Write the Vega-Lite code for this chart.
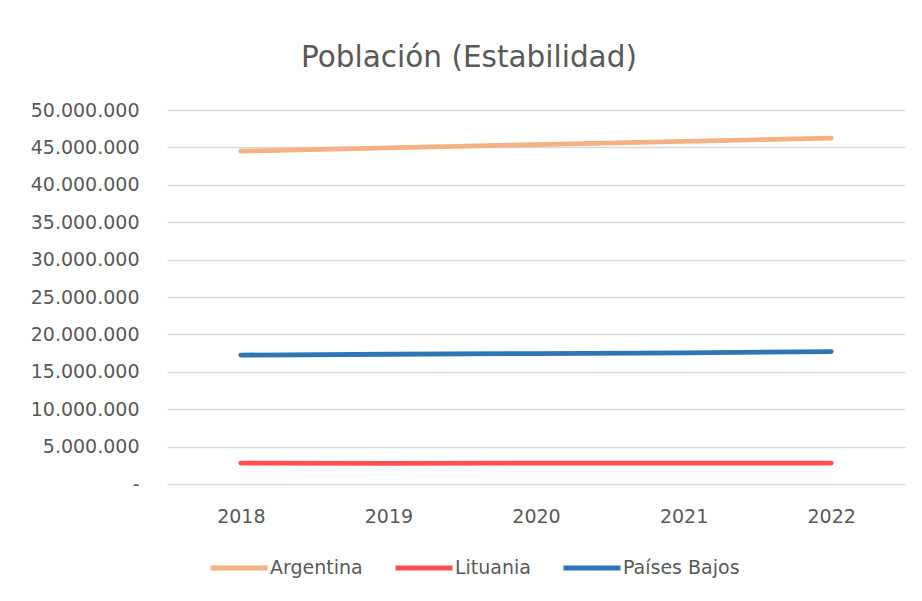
{
  "$schema": "https://vega.github.io/schema/vega-lite/v6.json",
  "autosize": {"type": "none"},
  "width": 738,
  "height": 374,
  "padding": {"left": 167, "top": 110, "right": 17, "bottom": 117},
  "background": "white",
  "title": {
    "text": "Población (Estabilidad)",
    "font": "DejaVu Sans",
    "fontSize": 29.5,
    "fontWeight": "normal",
    "color": "#595959",
    "anchor": "middle",
    "frame": "group",
    "baseline": "alphabetic",
    "offset": 5,
    "dx": -67
  },
  "data": {
    "values": [
      {"pais": "Argentina", "anio": "2018", "poblacion": 44494502},
      {"pais": "Argentina", "anio": "2019", "poblacion": 44938712},
      {"pais": "Argentina", "anio": "2020", "poblacion": 45376763},
      {"pais": "Argentina", "anio": "2021", "poblacion": 45808747},
      {"pais": "Argentina", "anio": "2022", "poblacion": 46234830},
      {"pais": "Lituania", "anio": "2018", "poblacion": 2801543},
      {"pais": "Lituania", "anio": "2019", "poblacion": 2744137},
      {"pais": "Lituania", "anio": "2020", "poblacion": 2794885},
      {"pais": "Lituania", "anio": "2021", "poblacion": 2800839},
      {"pais": "Lituania", "anio": "2022", "poblacion": 2801639},
      {"pais": "Países Bajos", "anio": "2018", "poblacion": 17231624},
      {"pais": "Países Bajos", "anio": "2019", "poblacion": 17344874},
      {"pais": "Países Bajos", "anio": "2020", "poblacion": 17441500},
      {"pais": "Países Bajos", "anio": "2021", "poblacion": 17533044},
      {"pais": "Países Bajos", "anio": "2022", "poblacion": 17700982}
    ]
  },
  "mark": {"type": "line", "strokeWidth": 4.8, "strokeCap": "round", "strokeJoin": "round"},
  "encoding": {
    "x": {
      "field": "anio",
      "type": "ordinal",
      "scale": {"paddingInner": 0, "paddingOuter": 0.5},
      "axis": {
        "title": null,
        "labelAngle": 0,
        "ticks": false,
        "domain": false,
        "grid": false,
        "labelPadding": 23,
        "labelBaseline": "top",
        "labelFont": "DejaVu Sans",
        "labelFontSize": 19,
        "labelColor": "#595959"
      }
    },
    "y": {
      "field": "poblacion",
      "type": "quantitative",
      "scale": {"domain": [0, 50000000], "nice": false},
      "axis": {
        "title": null,
        "values": [0, 5000000, 10000000, 15000000, 20000000, 25000000, 30000000, 35000000, 40000000, 45000000, 50000000],
        "labelExpr": "datum.value == 0 ? '-\u00a0\u00a0' : replace(format(datum.value, ','), regexp(',', 'g'), '.')",
        "ticks": false,
        "domain": false,
        "grid": true,
        "gridColor": "#D9D9D9",
        "gridWidth": 1.5,
        "labelPadding": 28,
        "labelFont": "DejaVu Sans",
        "labelFontSize": 19,
        "labelColor": "#595959"
      }
    },
    "color": {
      "field": "pais",
      "type": "nominal",
      "scale": {
        "domain": ["Argentina", "Lituania", "Países Bajos"],
        "range": ["#F4B183", "#FF5050", "#2E75B6"]
      },
      "legend": {
        "title": null,
        "orient": "none",
        "direction": "horizontal",
        "legendX": 41,
        "legendY": 427,
        "padding": 0,
        "symbolType": "stroke",
        "symbolSize": 3249,
        "symbolStrokeWidth": 4.8,
        "labelOffset": 0,
        "columnPadding": 22,
        "labelFont": "DejaVu Sans",
        "labelFontSize": 19,
        "labelColor": "#595959"
      }
    }
  },
  "config": {
    "view": {"stroke": null}
  }
}
